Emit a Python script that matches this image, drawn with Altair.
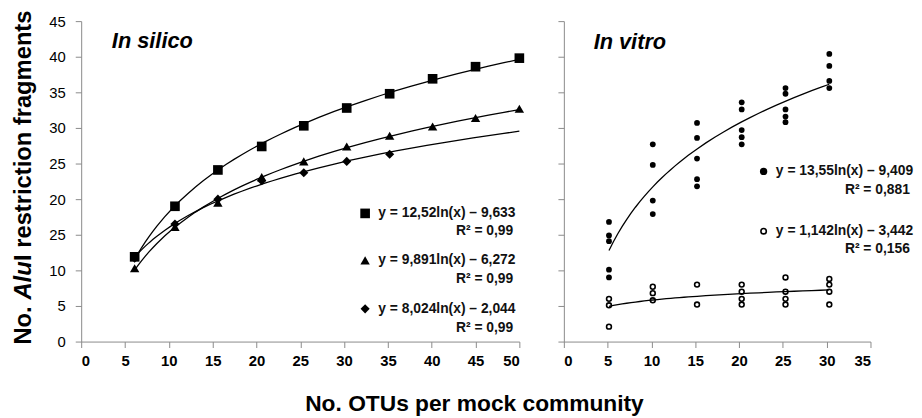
import altair as alt
import pandas as pd

# ---------------- In silico (left panel) ----------------
sil_x = [6.1, 10.7, 15.6, 20.6, 25.4, 30.3, 35.2, 40.1, 45.0, 50.0]
sil_square = [11.9, 19.0, 24.1, 27.4, 30.3, 32.8, 34.8, 36.9, 38.6, 39.8]
sil_triangle = [10.3, 16.1, 19.5, 23.1, 25.3, 27.4, 28.9, 30.2, 31.4, 32.7]
sil_diamond_x = [6.1, 10.7, 15.6, 20.6, 25.4, 30.3, 35.2]
sil_diamond = [11.7, 16.5, 20.0, 22.6, 23.7, 25.3, 26.3]

sil_series = ["square", "triangle", "diamond"]
sil_eq = ["y = 12,52ln(x) – 9,633", "y = 9,891ln(x) – 6,272", "y = 8,024ln(x) – 2,044"]
sil_r2 = ["R² = 0,99", "R² = 0,99", "R² = 0,99"]
sil_leg_y = [18.0, 11.4, 4.6]
sil_r2_y = [15.5, 8.8, 1.9]

# ---------------- In vitro (right panel) ----------------
vit_fill_x = [5.15] * 5 + [10.15] * 4 + [15.2] * 5 + [20.3] * 5 + [25.3] * 5 + [30.3] * 4
vit_fill_y = [16.8, 14.9, 14.1, 10.1, 9.0,
              27.7, 24.8, 19.8, 17.9,
              30.7, 28.6, 25.7, 22.8, 21.8,
              33.6, 32.6, 29.7, 28.7, 27.7,
              35.6, 34.8, 32.6, 31.6, 30.8,
              40.4, 38.7, 36.6, 35.6]
vit_open_x = [5.15] * 3 + [10.15] * 3 + [15.2] * 2 + [20.3] * 4 + [25.3] * 4 + [30.3] * 4
vit_open_y = [6.0, 5.1, 2.1,
              7.7, 6.8, 5.8,
              8.0, 5.2,
              8.0, 7.0, 6.0, 5.2,
              9.0, 7.0, 6.0, 5.2,
              8.8, 8.0, 7.0, 5.2]

vit_series = ["filled", "open"]
vit_eq = ["y = 13,55ln(x) – 9,409", "y = 1,142ln(x) – 3,442"]
vit_r2 = ["R² = 0,881", "R² = 0,156"]
vit_leg_y = [23.9, 15.5]
vit_r2_y = [21.3, 13.0]

y_title_parts = ["No. ", "Alu", "I restriction fragments"]
x_title = "No. OTUs per mock community"

FONT = "Liberation Sans, Arial, sans-serif"
EQ_SIZE = 14
W1, W2, H = 443, 310, 324

df_sil = pd.DataFrame({
    "x": sil_x + sil_x + sil_diamond_x,
    "y": sil_square + sil_triangle + sil_diamond,
    "series": ["square"] * len(sil_x) + ["triangle"] * len(sil_x) + ["diamond"] * len(sil_diamond_x),
})
df_sil_leg = pd.DataFrame({
    "series": sil_series, "eq": sil_eq, "r2": sil_r2,
    "ly": sil_leg_y, "ry": sil_r2_y,
    "sx": [32.4] * 3, "tx": [33.9] * 3, "rx": [49.3] * 3,
})

shape_scale = alt.Scale(domain=sil_series, range=["square", "triangle-up", "diamond"])
size_scale = alt.Scale(domain=sil_series, range=[95, 85, 55])

ys = alt.Scale(domain=[0, 45], nice=False)
xs_l = alt.Scale(domain=[0, 50], nice=False)
xs_r = alt.Scale(domain=[0, 35], nice=False)

y_axis_left = alt.Axis(values=list(range(0, 46, 5)), title=None, labelOverlap=False,
                       labelExpr="datum.value == 15 ? '25' : datum.label")
x_axis_left = alt.Axis(values=list(range(0, 51, 5)), title=None, labelOverlap=False)
y_axis_right = alt.Axis(values=list(range(0, 46, 5)), title=None, labels=False)
x_axis_right = alt.Axis(values=list(range(0, 36, 5)), title=None, labelOverlap=False)


def XL(f):
    return alt.X(f"{f}:Q", scale=xs_l, axis=x_axis_left)


def YL(f):
    return alt.Y(f"{f}:Q", scale=ys, axis=y_axis_left)


def XR(f):
    return alt.X(f"{f}:Q", scale=xs_r, axis=x_axis_right)


def YR(f):
    return alt.Y(f"{f}:Q", scale=ys, axis=y_axis_right)


sil_fit = alt.Chart(df_sil).transform_regression(
    "x", "y", method="log", groupby=["series"], extent=[6, 50]
).mark_line(color="black", strokeWidth=1.3).encode(x=XL("x"), y=YL("y"), detail="series:N")
sil_pts = alt.Chart(df_sil).mark_point(filled=True, color="black", opacity=1).encode(
    x=XL("x"), y=YL("y"),
    shape=alt.Shape("series:N", scale=shape_scale, legend=None),
    size=alt.Size("series:N", scale=size_scale, legend=None),
)
sil_leg_sym = alt.Chart(df_sil_leg).mark_point(filled=True, color="black", opacity=1).encode(
    x=XL("sx"), y=YL("ly"),
    shape=alt.Shape("series:N", scale=shape_scale, legend=None),
    size=alt.Size("series:N", scale=size_scale, legend=None),
)
sil_leg_eq = alt.Chart(df_sil_leg).mark_text(
    align="left", baseline="middle", font=FONT, fontSize=EQ_SIZE, fontWeight="bold", color="#111"
).encode(x=XL("tx"), y=YL("ly"), text="eq:N")
sil_leg_r2 = alt.Chart(df_sil_leg).mark_text(
    align="right", baseline="middle", font=FONT, fontSize=EQ_SIZE, fontWeight="bold", color="#111"
).encode(x=XL("rx"), y=YL("ry"), text="r2:N")

sil_title = alt.Chart(pd.DataFrame({"t": ["In silico"], "x": [3.5], "y": [42.2]})).mark_text(
    align="left", baseline="middle", font=FONT, fontSize=22, fontWeight="bold", fontStyle="italic"
).encode(x=XL("x"), y=YL("y"), text="t:N")

# rotated y title made of three pieces (middle one italic)
df_yt = pd.DataFrame({"part": y_title_parts, "py": [327, 281.5, 242.5], "italic": [0, 1, 0]})
yt_plain = alt.Chart(df_yt).transform_filter("datum.italic == 0").mark_text(
    angle=270, align="left", baseline="middle", font=FONT, fontSize=24, fontWeight="bold"
).encode(x=alt.value(-58), y=alt.Y("py:Q", scale=None), text="part:N")
yt_ital = alt.Chart(df_yt).transform_filter("datum.italic == 1").mark_text(
    angle=270, align="left", baseline="middle", font=FONT, fontSize=24, fontWeight="bold",
    fontStyle="italic"
).encode(x=alt.value(-58), y=alt.Y("py:Q", scale=None), text="part:N")

left = alt.layer(sil_fit, sil_pts, sil_leg_sym, sil_leg_eq, sil_leg_r2, sil_title,
                 yt_plain, yt_ital).properties(width=W1, height=H)

# ---------------- right panel ----------------
df_fill = pd.DataFrame({"x": vit_fill_x, "y": vit_fill_y})
df_open = pd.DataFrame({"x": vit_open_x, "y": vit_open_y})
df_vit_leg = pd.DataFrame({
    "series": vit_series, "eq": vit_eq, "r2": vit_r2,
    "ly": vit_leg_y, "ry": vit_r2_y, "sx": [22.8, 22.8], "tx": [24.2, 24.2], "rx": [39.5, 39.5],
})

fill_fit = alt.Chart(df_fill).transform_regression(
    "x", "y", method="log", extent=[5.15, 30.3]
).mark_line(color="black", strokeWidth=1.3).encode(x=XR("x"), y=YR("y"))
open_fit = alt.Chart(df_open).transform_regression(
    "x", "y", method="log", extent=[5.15, 30.3]
).mark_line(color="black", strokeWidth=1.3).encode(x=XR("x"), y=YR("y"))
fill_pts = alt.Chart(df_fill).mark_point(filled=True, color="black", opacity=1, size=34).encode(
    x=XR("x"), y=YR("y"))
open_pts = alt.Chart(df_open).mark_point(filled=False, color="black", opacity=1, size=24,
                                         strokeWidth=1.6).encode(x=XR("x"), y=YR("y"))

vit_leg_fill = alt.Chart(df_vit_leg).transform_filter("datum.series == 'filled'").mark_point(
    filled=True, color="black", opacity=1, size=55
).encode(x=XR("sx"), y=YR("ly"))
vit_leg_open = alt.Chart(df_vit_leg).transform_filter("datum.series == 'open'").mark_point(
    filled=False, color="black", opacity=1, size=30, strokeWidth=1.6
).encode(x=XR("sx"), y=YR("ly"))
vit_leg_eq = alt.Chart(df_vit_leg).mark_text(
    align="left", baseline="middle", font=FONT, fontSize=EQ_SIZE, fontWeight="bold", color="#111"
).encode(x=XR("tx"), y=YR("ly"), text="eq:N")
vit_leg_r2 = alt.Chart(df_vit_leg).mark_text(
    align="right", baseline="middle", font=FONT, fontSize=EQ_SIZE, fontWeight="bold", color="#111"
).encode(x=XR("rx"), y=YR("ry"), text="r2:N")

vit_title = alt.Chart(pd.DataFrame({"t": ["In vitro"], "x": [3.4], "y": [42.1]})).mark_text(
    align="left", baseline="middle", font=FONT, fontSize=22, fontWeight="bold", fontStyle="italic"
).encode(x=XR("x"), y=YR("y"), text="t:N")

right = alt.layer(fill_fit, open_fit, fill_pts, open_pts, vit_leg_fill, vit_leg_open,
                  vit_leg_eq, vit_leg_r2, vit_title).properties(width=W2, height=H)

chart = alt.hconcat(left, right, spacing=45, bounds="flush").properties(
    title=alt.TitleParams(x_title, orient="bottom", anchor="middle", fontSize=23,
                          fontWeight="bold", font=FONT, color="black", offset=25, dx=12),
    padding={"left": 3, "top": 0, "right": 0, "bottom": 0},
).configure_view(stroke=None).configure_axis(
    domainColor="#8a8a8a", tickColor="#8a8a8a", tickSize=6, grid=False,
    labelFont=FONT, labelFontSize=15, labelColor="black", labelPadding=4,
).configure_axisX(labelFontWeight="bold", labelPadding=6).configure_axisY(labelPadding=10)

chart.save("out.html", embed_options={"renderer": "svg", "actions": False})
